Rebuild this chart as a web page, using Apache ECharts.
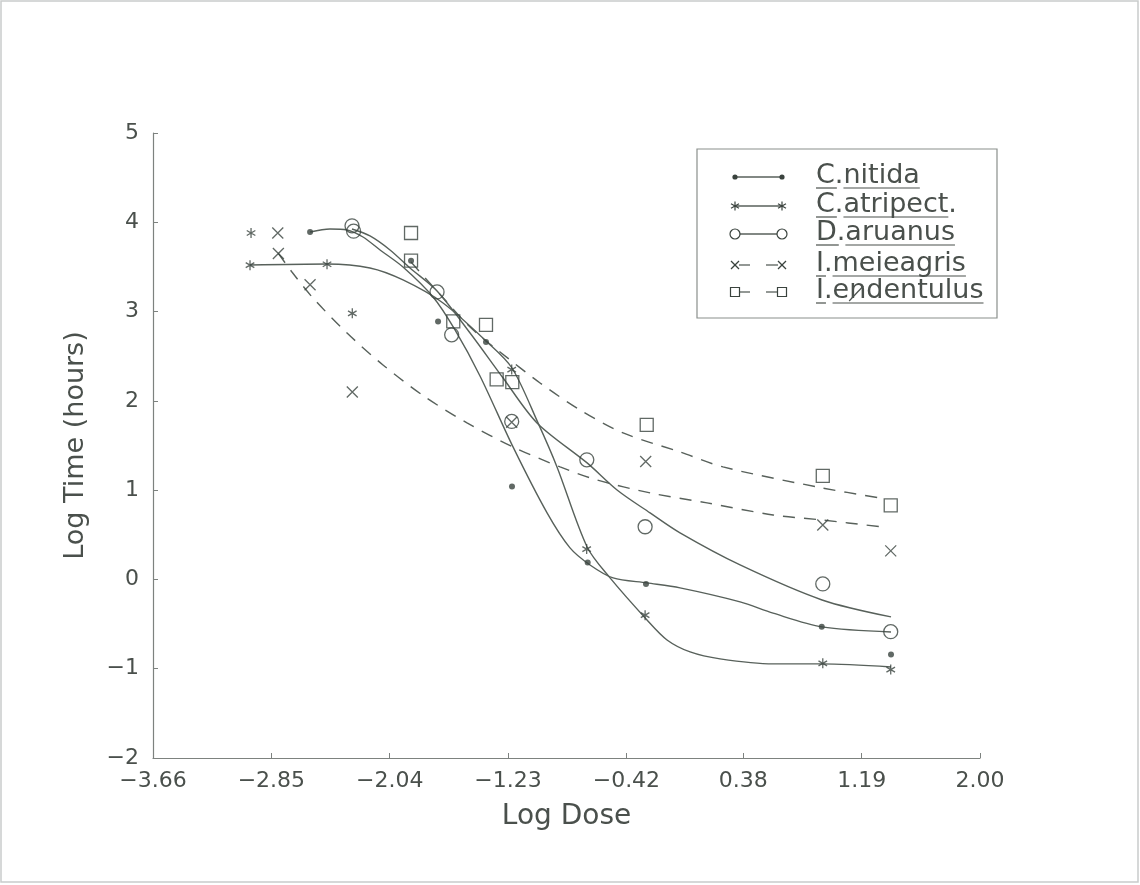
<!DOCTYPE html>
<html>
<head>
<meta charset="utf-8">
<script src="https://cdn.jsdelivr.net/npm/echarts@6/dist/echarts.min.js"></script>
<style>
  html, body { margin: 0; padding: 0; background: #ffffff; }
  #chart { width: 1140px; height: 885px; }
</style>
</head>
<body>
<div id="chart"></div>
<script>
// Tick positions on the dose axis (log units)
const doseTicks = [-3.66, -2.85, -2.04, -1.23, -0.42, 0.38, 1.19, 2.00];

// Observed log times per species: [log dose, log time]
const nitidaObs = [[-2.585, 3.89], [-1.894, 3.57], [-1.709, 2.89], [-1.381, 2.66], [-1.203, 1.04],
                   [-0.685, 0.19], [-0.286, -0.05], [0.917, -0.53], [1.391, -0.84]];
const atripectObs = [[-2.989, 3.88], [-2.996, 3.52], [-2.469, 3.53], [-2.296, 2.98], [-1.205, 2.35],
                     [-0.692, 0.34], [-0.292, -0.40], [0.924, -0.94], [1.389, -1.01]];
const aruanusObs = [[-2.298, 3.96], [-2.287, 3.90], [-1.716, 3.22], [-1.616, 2.74], [-1.205, 1.77],
                    [-0.691, 1.34], [-0.292, 0.59], [0.924, -0.05], [1.389, -0.585]];
const meleagrisObs = [[-2.806, 3.88], [-2.802, 3.65], [-2.585, 3.30], [-2.296, 2.10], [-1.205, 1.76],
                      [-0.288, 1.32], [0.924, 0.61], [1.389, 0.32]];
const edentulusObs = [[-1.894, 3.88], [-1.894, 3.57], [-1.605, 2.89], [-1.381, 2.85], [-1.308, 2.24],
                      [-1.201, 2.21], [-0.281, 1.73], [0.924, 1.16], [1.389, 0.83]];

// Fitted response curves
const nitidaFit = [[-2.585, 3.891], [-2.449, 3.925], [-2.332, 3.914], [-2.223, 3.835], [-2.106, 3.690],
                   [-1.949, 3.499], [-1.743, 3.163], [-1.593, 2.794], [-1.422, 2.279],
                   [-1.196, 1.484], [-0.963, 0.745], [-0.806, 0.353], [-0.669, 0.162],
                   [-0.511, 0.017], [-0.279, -0.039], [-0.053, -0.095], [0.358, -0.252], [0.584, -0.378],
                   [0.919, -0.532], [1.391, -0.588]];
const atripectFit = [[-2.996, 3.522], [-2.469, 3.533], [-2.175, 3.488], [-1.949, 3.354],
                     [-1.675, 3.096], [-1.374, 2.660], [-1.203, 2.368],
                     [-1.025, 1.753], [-0.895, 1.260], [-0.689, 0.364], [-0.532, 0.017],
                     [-0.279, -0.454], [-0.142, -0.678], [0.016, -0.812], [0.221, -0.890], [0.584, -0.946],
                     [0.919, -0.946], [1.391, -0.980]];
const aruanusFit = [[-2.298, 3.925], [-2.175, 3.847], [-2.038, 3.690], [-1.901, 3.488], [-1.716, 3.231],
                    [-1.490, 2.760], [-1.264, 2.256], [-1.032, 1.753], [-0.689, 1.305], [-0.484, 1.002],
                    [-0.258, 0.745], [-0.053, 0.521], [0.358, 0.162], [0.919, -0.230], [1.391, -0.420]];
const meleagrisFit = [[-2.804, 3.656], [-2.709, 3.443], [-2.565, 3.152], [-2.332, 2.760],
                      [-2.086, 2.402], [-1.798, 2.044],
                      [-1.511, 1.753], [-1.196, 1.484], [-0.874, 1.260], [-0.621, 1.114],
                      [-0.258, 0.969], [0.132, 0.857], [0.584, 0.722], [0.919, 0.666], [1.330, 0.588]];
const edentulusFit = [[-1.894, 3.555], [-1.785, 3.354], [-1.661, 3.130], [-1.538, 2.906], [-1.422, 2.727],
                      [-1.285, 2.548], [-1.011, 2.200], [-0.737, 1.898], [-0.443, 1.641],
                      [-0.053, 1.428], [0.241, 1.260], [0.919, 1.025], [1.316, 0.913]];

// Legend labels, in drawing order
const speciesLabels = ['C.nitida', 'C.atripect.', 'D.aruanus', 'I.meieagris', 'I.endentulus'];

const lineColor = '#58615b';
const markColor = '#3a433e';
const textColor = '#4a504c';
const axisColor = '#7d827f';
const FONT_FAMILY = '"DejaVu Sans", sans-serif';

const SYM_STAR = 'path://M5 0L5 10M0.7 2.5L9.3 7.5M0.7 7.5L9.3 2.5';
const SYM_CROSS = 'path://M0 0L10 10M0 10L10 0';

function fitSeries(name, data, dashed) {
  return {
    name: name, type: 'line', data: data, smooth: 0.3,
    symbol: 'none', z: 2, silent: true,
    lineStyle: { color: lineColor, width: 1.4, type: dashed ? [12, 9] : 'solid' }
  };
}
function obsSeries(name, data, symbol, size, filled) {
  return {
    name: name, type: 'scatter', data: data, symbol: symbol, symbolSize: size,
    symbolKeepAspect: true, z: 3, silent: true,
    itemStyle: filled
      ? { color: markColor, borderColor: markColor, borderWidth: 0 }
      : { color: 'transparent', borderColor: markColor, borderWidth: 1.3 }
  };
}

// ---- legend box drawn with graphic elements ----
const measureCtx = document.createElement('canvas').getContext('2d');
const legendFontSize = 27;
measureCtx.font = legendFontSize + 'px ' + FONT_FAMILY;
const tw = s => measureCtx.measureText(s).width;

const legendBox = { x: 697, y: 149, w: 300, h: 169 };
const rowY = [177, 206, 234, 265, 292];
const sampleX0 = 735, sampleX1 = 782, textX = 816;
const rowKinds = [
  { sym: 'dot', dashed: false },
  { sym: 'star', dashed: false },
  { sym: 'circle', dashed: false },
  { sym: 'cross', dashed: true },
  { sym: 'square', dashed: true }
];

function legendSymbol(kind, cx, cy) {
  const st = { stroke: markColor, lineWidth: 1.2, fill: 'none' };
  if (kind === 'dot') return [{ type: 'circle', shape: { cx, cy, r: 2.6 }, style: { fill: markColor } }];
  if (kind === 'circle') return [{ type: 'circle', shape: { cx, cy, r: 5 }, style: Object.assign({}, st, { fill: '#fff' }) }];
  if (kind === 'square') return [{ type: 'rect', shape: { x: cx - 4.5, y: cy - 4.5, width: 9, height: 9 }, style: Object.assign({}, st, { fill: '#fff' }) }];
  if (kind === 'cross') return [
    { type: 'line', shape: { x1: cx - 4, y1: cy - 4, x2: cx + 4, y2: cy + 4 }, style: st },
    { type: 'line', shape: { x1: cx - 4, y1: cy + 4, x2: cx + 4, y2: cy - 4 }, style: st }];
  // asterisk
  return [
    { type: 'line', shape: { x1: cx, y1: cy - 4.5, x2: cx, y2: cy + 4.5 }, style: st },
    { type: 'line', shape: { x1: cx - 4, y1: cy - 2.3, x2: cx + 4, y2: cy + 2.3 }, style: st },
    { type: 'line', shape: { x1: cx - 4, y1: cy + 2.3, x2: cx + 4, y2: cy - 2.3 }, style: st }];
}

const legendElements = [{
  type: 'rect', shape: { x: legendBox.x, y: legendBox.y, width: legendBox.w, height: legendBox.h },
  style: { fill: '#fff', stroke: '#8a8f8c', lineWidth: 1.2 }
}];
speciesLabels.forEach((label, i) => {
  const y = rowY[i], k = rowKinds[i];
  const ls = { stroke: lineColor, lineWidth: 1.3 };
  if (k.dashed) {
    legendElements.push({ type: 'line', shape: { x1: sampleX0 + 4, y1: y, x2: sampleX0 + 15, y2: y }, style: ls });
    legendElements.push({ type: 'line', shape: { x1: sampleX1 - 16, y1: y, x2: sampleX1 - 4, y2: y }, style: ls });
  } else {
    legendElements.push({ type: 'line', shape: { x1: sampleX0, y1: y, x2: sampleX1, y2: y }, style: ls });
  }
  legendSymbol(k.sym, sampleX0, y).forEach(e => legendElements.push(e));
  legendSymbol(k.sym, sampleX1, y).forEach(e => legendElements.push(e));

  const ty = y - 1;
  legendElements.push({
    type: 'text', x: textX, y: ty,
    style: { text: label, font: legendFontSize + 'px ' + FONT_FAMILY, fill: textColor,
             align: 'left', verticalAlign: 'middle' }
  });
  // underline the initial and the name after the period
  const uy = ty + 12;
  const us = { stroke: textColor, lineWidth: 1.2 };
  const dot = label.indexOf('.');
  const endLabel = label.endsWith('.') ? label.slice(0, -1) : label;
  legendElements.push({ type: 'line', shape: { x1: textX, y1: uy, x2: textX + tw(label.slice(0, dot)) + 2, y2: uy }, style: us });
  legendElements.push({ type: 'line', shape: { x1: textX + tw(label.slice(0, dot + 1)), y1: uy, x2: textX + tw(endLabel), y2: uy }, style: us });
  if (label === 'I.endentulus') {
    // struck-through letter
    const sx0 = textX + tw('I.e'), sx1 = textX + tw('I.en');
    legendElements.push({ type: 'line', shape: { x1: sx0, y1: ty + 10, x2: sx1 - 3, y2: ty - 5 }, style: us });
  }
});

const chart = echarts.init(document.getElementById('chart'), null, { renderer: 'canvas' });
chart.setOption({
  animation: false,
  backgroundColor: '#ffffff',
  grid: { left: 153, top: 133, width: 827, height: 625, containLabel: false },
  xAxis: {
    type: 'value', min: -3.66, max: 2.00,
    name: 'Log Dose', nameLocation: 'middle', nameGap: 45,
    nameTextStyle: { fontFamily: FONT_FAMILY, fontSize: 28, color: textColor },
    axisLine: { show: true, onZero: false, lineStyle: { color: axisColor, width: 1.2 } },
    axisTick: { show: true, inside: true, length: 5, customValues: doseTicks, lineStyle: { color: axisColor } },
    axisLabel: {
      customValues: doseTicks, margin: 12, color: textColor, fontFamily: FONT_FAMILY, fontSize: 22,
      formatter: v => v.toFixed(2).replace('-', '\u2212')
    },
    splitLine: { show: false }
  },
  yAxis: {
    type: 'value', min: -2, max: 5, interval: 1,
    name: 'Log Time (hours)', nameLocation: 'middle', nameGap: 64, nameRotate: 90,
    nameTextStyle: { fontFamily: FONT_FAMILY, fontSize: 27, color: textColor },
    axisLine: { show: true, onZero: false, lineStyle: { color: axisColor, width: 1.2 } },
    axisTick: { show: true, inside: true, length: 5, lineStyle: { color: axisColor } },
    axisLabel: {
      margin: 14, color: textColor, fontFamily: FONT_FAMILY, fontSize: 22,
      formatter: v => String(v).replace('-', '\u2212')
    },
    splitLine: { show: false }
  },
  series: [
    fitSeries('C.nitida', nitidaFit, false),
    fitSeries('C.atripect.', atripectFit, false),
    fitSeries('D.aruanus', aruanusFit, false),
    fitSeries('I.meieagris', meleagrisFit, true),
    fitSeries('I.endentulus', edentulusFit, true),
    obsSeries('C.nitida', nitidaObs, 'circle', 6, true),
    obsSeries('C.atripect.', atripectObs, SYM_STAR, 10, false),
    obsSeries('D.aruanus', aruanusObs, 'circle', 14, false),
    obsSeries('I.meieagris', meleagrisObs, SYM_CROSS, 11, false),
    obsSeries('I.endentulus', edentulusObs, 'rect', 13, false)
  ],
  graphic: [
    { type: 'rect', silent: true, shape: { x: 1, y: 1, width: 1137, height: 881 },
      style: { fill: 'none', stroke: '#c9cccb', lineWidth: 1.5 } },
    { type: 'group', silent: true, children: legendElements }
  ]
});
</script>
</body>
</html>
